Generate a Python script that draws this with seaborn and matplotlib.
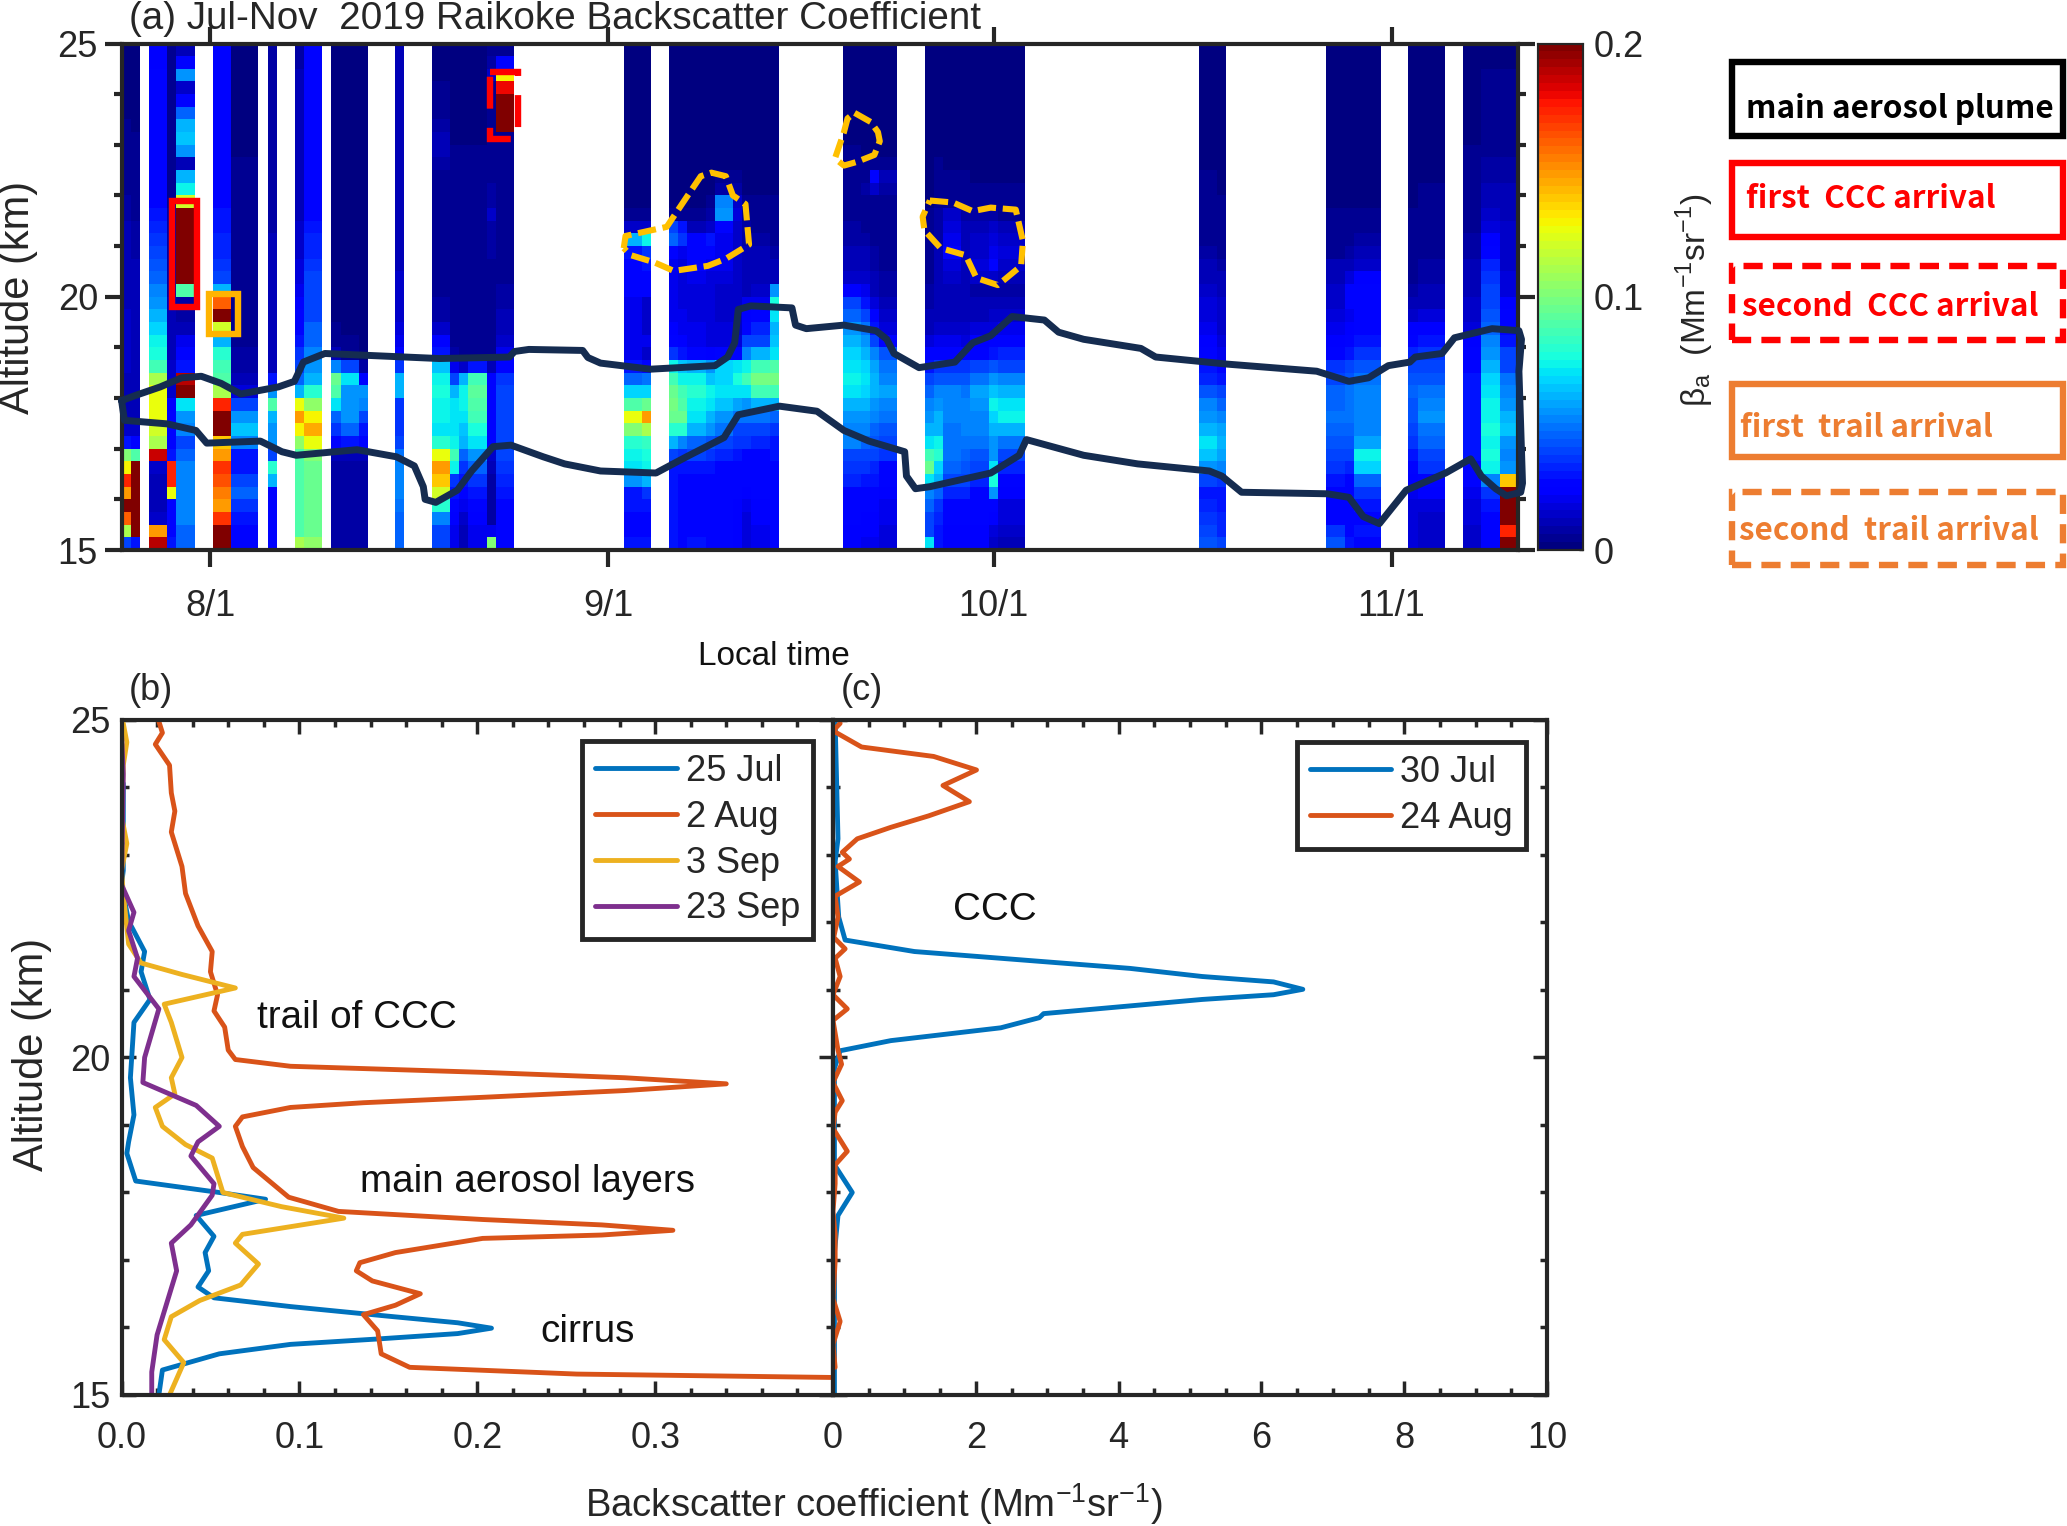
import numpy as np
import matplotlib
matplotlib.use('Agg')
import matplotlib.pyplot as plt
import seaborn as sns
from matplotlib.patches import Rectangle
from matplotlib.ticker import MultipleLocator

W, H = 2067, 1526
DARK = '#262626'

# lidar columns: first bin, number of bins (bin = 0.71 day)
col_start = [0, 1, 3, 5, 6, 10, 12, 16, 19, 20, 23, 24, 26, 30, 34, 36, 37, 38, 40, 41,
             55, 57, 60, 61, 62, 64, 65, 67, 68, 69, 71, 79, 81, 82, 83, 88, 89, 90, 92, 93, 95, 96,
             118, 120, 132, 134, 135, 141, 142, 147, 149, 151]
col_width = [1, 1, 2, 1, 2, 2, 3, 1, 1, 2, 1, 2, 1, 1, 2, 1, 1, 2, 1, 2,
             2, 1, 1, 1, 2, 1, 2, 1, 1, 2, 1, 2, 1, 1, 2, 1, 1, 2, 1, 2, 1, 3,
             2, 1, 2, 1, 3, 1, 3, 2, 2, 2]

# backscatter x1000, 0.25 km steps from 15 km up to 25 km (one group per km)
beta_profiles = [
    [40,110,160,200, 150,175,130,100, 30,15,10,10, 10,12,15,15, 15,15,15,12, 12,12,12,10, 10,10,8,8, 6,6,5,5, 4,4,3,3, 3,3,2,2],
    [30,200,200,200, 200,200,200,90, 25,15,12,12, 12,12,12,12, 12,12,10,10, 10,10,10,8, 8,8,6,6, 5,5,4,4, 4,3,3,3, 3,2,2,2],
    [190,150,15,12, 12,12,15,185, 110,120,125,125, 125,110,85,78, 72,68,62,55, 50,45,42,40, 35,32,30,28, 26,25,25,25, 25,25,25,25, 25,25,24,22],
    [30,25,25,25, 125,175,175,30, 25,25,25,22, 15,15,15,12, 10,10,10,10, 8,8,8,8, 8,8,8,6, 6,6,5,5, 5,5,5,5, 5,5,5,5],
    [45,45,50,50, 50,50,50,45, 40,50,55,70, 200,190,30,25, 20,10,8,8, 90,200,200,200, 200,200,200,120, 75,60,12,55, 65,60,45,25, 15,55,25,12],
    [200,200,170,150, 155,165,170,150, 140,200,200,175, 110,90,85,80, 60,120,200,160, 60,40,36,34, 32,30,30,28, 28,26,26,25, 25,25,25,25, 25,25,25,25],
    [25,28,30,35, 45,40,30,30, 50,65,55,40, 18,10,8,8, 6,6,6,6, 6,6,5,5, 5,5,5,4, 4,4,4,3, 3,3,3,3, 3,3,3,3],
    [25,25,25,25, 25,60,80,40, 55,55,60,90, 55,30,12,10, 10,10,10,10, 10,10,10,10, 10,8,8,8, 8,8,8,8, 8,8,8,8, 8,8,8,8],
    [110,90,90,90, 90,90,90,90, 105,130,150,125, 60,45,40,35, 30,28,25,22, 20,18,16,15, 14,14,12,12, 10,10,10,12, 12,12,10,10, 10,10,8,8],
    [105,95,95,95, 95,95,95,100, 125,145,130,105, 80,60,55,50, 45,45,40,40, 40,38,36,34, 32,30,28,26, 26,25,25,25, 25,25,25,25, 25,25,25,25],
    [8,8,8,8, 8,8,8,10, 25,35,45,70, 90,95,50,12, 4,4,3,3, 3,3,3,3, 3,3,3,3, 3,3,3,3, 3,3,3,3, 3,3,3,3],
    [8,8,8,8, 8,8,8,10, 30,45,55,55, 55,70,40,5, 4,3,3,3, 3,3,3,3, 3,3,3,3, 3,3,3,3, 3,3,3,3, 3,3,3,3],
    [8,8,8,8, 8,8,8,10, 25,30,40,50, 55,25,8,3, 3,3,3,3, 3,3,3,3, 3,3,3,3, 3,3,3,3, 3,3,3,3, 3,3,3,3],
    [45,45,45,48, 50,50,50,48, 40,35,35,35, 60,60,35,25, 20,18,15,15, 14,14,12,12, 12,12,12,12, 10,10,10,10, 10,10,10,10, 10,10,10,10],
    [40,40,50,80, 120,140,150,125, 80,70,75,75, 78,72,65,30, 25,15,8,8, 6,6,6,5, 5,5,5,5, 5,5,8,10, 10,8,6,5, 4,3,3,3],
    [20,20,22,25, 30,35,75,85, 75,70,70,70, 60,40,20,8, 5,5,5,4, 4,4,4,4, 4,4,4,4, 4,4,4,4, 3,3,3,3, 3,3,3,3],
    [12,12,15,20, 25,30,35,45, 60,65,70,72, 75,60,15,5, 5,4,4,4, 4,4,4,4, 4,4,4,4, 4,4,4,4, 3,3,3,3, 3,3,3,3],
    [20,20,22,25, 30,35,45,55, 70,78,85,90, 92,85,30,5, 4,4,4,4, 4,4,4,4, 4,4,4,4, 4,4,4,4, 3,3,3,3, 3,3,3,3],
    [100,20,8,8, 8,8,10,15, 25,25,25,25, 25,25,12,5, 5,5,5,5, 5,5,5,8, 8,8,15,8, 8,6,6,6, 6,5,5,5, 5,15,8,5],
    [25,25,25,28, 30,32,35,38, 40,40,40,40, 40,35,25,20, 15,12,10,8, 8,6,6,5, 5,5,5,5, 5,5,5,5, 5,200,200,200, 180,130,25,5],
    [30,28,28,30, 30,55,70,75, 80,100,125,90, 68,45,30,20, 20,20,20,20, 25,25,28,30, 60,15,5,3, 3,3,3,3, 3,3,3,3, 3,3,3,3],
    [30,28,28,30, 35,60,72,78, 82,110,150,95, 68,48,25,15, 20,15,15,15, 25,25,30,35, 75,15,5,3, 3,3,3,3, 3,3,3,3, 3,3,3,3],
    [30,30,30,30, 30,30,30,40, 60,80,95,98, 95,85,72,35, 25,22,20,20, 20,20,20,25, 45,40,5,3, 3,3,3,3, 3,3,3,3, 3,3,3,3],
    [28,28,28,28, 28,28,30,35, 50,80,95,90, 85,75,65,30, 22,20,20,18, 18,18,18,20, 35,30,5,3, 3,3,3,3, 3,3,3,3, 3,3,3,3],
    [30,28,28,28, 28,28,30,38, 45,60,70,75, 80,72,60,25, 20,20,18,18, 18,20,25,28, 25,12,5,3, 3,3,3,3, 3,3,3,3, 3,3,3,3],
    [28,28,28,28, 28,28,30,35, 42,55,62,70, 72,65,55,22, 18,18,18,18, 18,18,20,25, 30,15,8,5, 3,3,3,3, 3,3,3,3, 3,3,3,3],
    [25,25,25,25, 25,25,28,32, 40,48,55,65, 70,68,68,25, 18,18,15,15, 15,18,20,20, 20,25,55,50, 8,5,3,3, 3,3,3,3, 3,3,3,3],
    [22,22,22,22, 25,25,25,30, 35,40,48,58, 70,78,70,28, 18,15,15,15, 15,15,15,15, 15,15,18,15, 8,5,3,3, 3,3,3,3, 3,3,3,3],
    [18,18,18,20, 22,25,25,28, 35,40,48,55, 70,85,72,50, 38,28,22,20, 12,12,10,10, 8,8,6,5, 3,3,3,3, 3,3,3,3, 3,3,3,3],
    [20,20,22,22, 25,25,25,28, 32,40,48,60, 85,98,85,60, 40,32,25,20, 15,12,10,10, 8,6,5,5, 3,3,3,3, 3,3,3,3, 3,3,3,3],
    [25,25,25,25, 25,28,28,30, 30,35,45,60, 85,98,88,70, 65,60,70,78, 55,12,10,8, 6,5,5,4, 3,3,3,3, 3,3,3,3, 3,3,3,3],
    [22,22,25,25, 28,32,35,40, 50,52,55,60, 70,72,70,68, 62,55,45,38, 22,15,12,10, 8,8,6,5, 5,4,4,4, 3,3,3,3, 3,3,3,3],
    [20,22,22,25, 28,30,35,40, 45,50,55,60, 68,70,68,62, 55,48,40,30, 20,15,12,10, 8,6,5,5, 8,6,4,3, 3,3,3,3, 3,3,3,3],
    [20,22,22,25, 28,30,32,38, 42,45,50,55, 60,62,58,50, 40,30,25,18, 12,10,8,8, 6,6,5,5, 15,25,5,3, 3,3,3,3, 3,3,3,3],
    [18,18,20,20, 22,25,28,35, 38,42,48,52, 58,52,48,42, 28,18,15,12, 8,8,6,6, 6,5,5,5, 8,12,4,3, 3,3,3,3, 3,3,3,3],
    [70,40,40,45, 50,70,95,85, 70,60,55,50, 45,38,30,25, 18,12,10,8, 8,6,6,5, 5,5,5,3, 3,3,3,3, 3,3,3,3, 3,3,3,3],
    [30,30,32,35, 45,60,68,80, 72,62,60,55, 50,42,35,28, 20,15,12,10, 10,10,10,10, 8,8,8,5, 4,4,4,3, 3,3,3,3, 3,3,3,3],
    [22,22,25,28, 32,38,45,48, 48,48,50,50, 50,42,35,28, 20,15,12,10, 12,15,18,22, 20,18,15,5, 4,4,3,3, 3,3,3,3, 3,3,3,3],
    [22,22,25,28, 32,38,42,45, 48,50,50,50, 48,42,35,25, 18,14,12,10, 10,12,12,12, 12,10,8,5, 4,4,3,3, 3,3,3,3, 3,3,3,3],
    [22,22,25,25, 28,32,38,42, 48,52,52,55, 58,48,38,28, 22,16,12,10, 8,14,18,15, 15,12,8,5, 4,3,3,3, 3,3,3,3, 3,3,3,3],
    [15,18,22,25, 55,78,70,55, 55,60,68,72, 65,55,42,30, 25,18,15,12, 8,15,25,20, 18,15,8,5, 4,3,3,3, 3,3,3,3, 3,3,3,3],
    [12,15,18,18, 22,28,32,38, 48,62,72,70, 60,50,40,32, 25,20,15,10, 8,12,15,18, 15,10,6,5, 4,3,3,3, 3,3,3,3, 3,3,3,3],
    [42,38,36,32, 30,40,55,65, 70,62,55,50, 42,34,30,26, 22,20,18,16, 15,12,10,8, 6,5,5,5, 4,4,3,3, 3,3,3,3, 3,3,3,3],
    [38,34,32,30, 30,36,50,58, 62,58,52,46, 38,30,26,20, 16,15,15,14, 12,10,8,6, 5,5,4,4, 3,3,3,3, 3,3,3,3, 3,3,3,3],
    [42,35,28,25, 25,30,35,40, 42,45,48,45, 45,40,35,28, 22,20,18,15, 15,12,10,6, 5,5,4,3, 3,3,3,3, 3,3,3,3, 3,3,3,3],
    [30,28,25,25, 25,28,32,38, 42,45,48,48, 48,42,38,30, 25,22,20,25, 25,18,12,8, 6,5,4,3, 3,3,3,3, 3,3,3,3, 3,3,3,3],
    [28,30,28,30, 35,45,68,72, 58,52,52,50, 50,48,42,35, 30,25,25,25, 28,22,15,10, 8,6,5,3, 3,3,3,3, 3,3,3,3, 3,3,3,3],
    [18,18,18,18, 20,22,25,30, 35,38,42,42, 45,42,38,32, 28,22,15,12, 8,6,6,5, 5,4,4,3, 3,3,3,3, 3,3,3,3, 3,3,3,3],
    [15,15,15,18, 22,25,35,40, 45,48,55,52, 48,42,38,35, 30,22,18,12, 10,8,8,6, 6,5,5,4, 4,3,3,3, 3,3,3,3, 3,3,3,3],
    [15,15,18,18, 20,25,28,30, 30,30,30,30, 30,30,28,25, 22,18,15,15, 12,12,10,8, 8,6,6,5, 5,4,4,4, 3,3,3,3, 3,3,3,3],
    [25,25,28,30, 35,50,72,78, 75,78,75,75, 70,68,60,55, 50,45,42,40, 38,35,32,28, 22,18,15,12, 10,8,8,6, 6,5,5,4, 4,4,3,3],
    [200,175,200,200, 200,140,55,50, 55,65,60,55, 50,48,40,38, 30,28,25,22, 18,18,15,15, 15,15,12,12, 10,8,8,6, 6,5,5,4, 4,4,3,3],
]

# plume outline, days since 1 Aug and altitude in km
plume_day = [-6.91, -5.85, -3.90, -2.23, -0.70, 0.84, 2.37, 5.30, 6.55, 7.25, 8.92, 17.84, 23.28, 23.70, 24.81, 29.0, 29.41,
             30.39, 34.29, 39.31, 40.29, 40.84, 41.12, 42.10, 45.30, 45.58, 46.42, 49.35, 51.85, 52.69, 53.25, 55.20, 57.99,
             59.38, 60.78, 62.45, 64.96, 66.07, 68.02, 72.48, 73.63, 79.20, 86.17, 88.68, 90.21, 91.75, 93.42, 93.84, 95.93,
             96.90, 99.83, 101.92, 102.12, 101.92, 102.20, 102.06, 100.95, 100.11, 98.99, 98.16, 96.21, 93.14, 91.05, 89.80,
             88.68, 87.01, 80.32, 78.78, 77.81, 72.23, 68.02, 63.56, 63.0, 60.78, 56.04, 54.92, 54.22, 54.08, 51.30, 49.35,
             47.25, 44.33, 41.12, 40.01, 37.08, 34.71, 30.39, 27.60, 25.93, 23.42, 22.02, 20.35, 19.24, 17.56, 16.73, 16.59,
             15.89, 14.50, 11.43, 6.69, 5.58, 3.90, -0.28, -1.12, -3.35, -6.69, -6.91]
plume_alt = [17.95, 18.05, 18.22, 18.40, 18.43, 18.29, 18.08, 18.22, 18.33, 18.71, 18.88, 18.78, 18.81, 18.92, 18.96, 18.94, 18.80,
             18.69, 18.57, 18.64, 18.81, 19.09, 19.75, 19.82, 19.78, 19.44, 19.37, 19.44, 19.33, 19.16, 18.88, 18.60, 18.71,
             19.09, 19.23, 19.61, 19.54, 19.30, 19.16, 18.98, 18.81, 18.67, 18.53, 18.33, 18.40, 18.64, 18.71, 18.81, 18.88,
             19.19, 19.37, 19.33, 19.16, 18.53, 16.32, 16.14, 16.07, 16.21, 16.46, 16.80, 16.52, 16.18, 15.52, 15.66,
             16.04, 16.11, 16.14, 16.46, 16.56, 16.70, 16.87, 17.18, 16.87, 16.52, 16.25, 16.21, 16.46, 16.94, 17.15, 17.36,
             17.74, 17.84, 17.67, 17.22, 16.84, 16.52, 16.56, 16.70, 16.84, 17.07, 17.04, 16.56, 16.18, 15.94, 16.0, 16.25,
             16.66, 16.84, 16.98, 16.87, 16.94, 17.15, 17.11, 17.36, 17.49, 17.56, 17.95]

# trail contours
blob1_day = [32.20, 32.34, 35.55, 37.08, 38.20, 39.03, 40.15, 40.70, 41.68, 41.96, 40.15, 38.75, 36.10, 34.57, 32.76, 32.20]
blob1_alt = [20.96, 21.20, 21.38, 21.96, 22.38, 22.45, 22.38, 22.0, 21.83, 21.03, 20.75, 20.61, 20.51, 20.68, 20.82, 20.96]
blob2_day = [50.18, 51.44, 52.0, 52.14, 51.72, 50.32, 49.35, 48.65, 49.35, 49.63, 50.18]
blob2_alt = [23.63, 23.45, 23.25, 23.07, 22.80, 22.66, 22.59, 22.73, 23.25, 23.52, 23.63]
blob3_day = [56.04, 57.85, 59.38, 60.78, 62.73, 63.29, 63.15, 61.34, 59.67, 58.83, 56.88, 55.62, 55.48, 56.04]
blob3_alt = [21.90, 21.86, 21.69, 21.76, 21.72, 21.10, 20.61, 20.23, 20.37, 20.82, 20.96, 21.31, 21.58, 21.90]

# panel b
jul25_val = [.001, .001, .0, .004, .013, .011, .016, .007, .006, .005, .007, .004, .003, .008, .055, .081, .042, .052, .047, .049,
             .043, .052, .095, .149, .189, .208, .189, .144, .095, .055, .023, .021]
jul25_alt = [24.06, 22.77, 22.56, 22.02, 21.57, 21.27, 20.86, 20.52, 20.11, 19.70, 19.15, 18.75, 18.58, 18.17, 18.0, 17.90, 17.66,
             17.35, 17.11, 16.84, 16.60, 16.44, 16.31, 16.17, 16.07, 15.99, 15.91, 15.83, 15.75, 15.61, 15.37, 15.0]
aug2_val = [.021, .023, .019, .027, .028, .030, .028, .034, .036, .043, .051, .050, .054, .052, .058, .060, .064, .095, .203, .283, .340,
            .283, .203, .136, .095, .068, .064, .068, .074, .094, .122, .203, .270, .310, .270, .203, .154, .134, .132, .141, .168, .154, .136, .144, .146,
            .162, .256, .399]
aug2_alt = [24.98, 24.81, 24.64, 24.33, 23.92, 23.65, 23.34, 22.83, 22.43, 21.95, 21.57, 21.27, 20.93, 20.69, 20.45, 20.11, 19.97,
            19.87, 19.78, 19.70, 19.61, 19.51, 19.41, 19.33, 19.26, 19.12, 18.98, 18.68, 18.37, 17.93, 17.72, 17.60, 17.52, 17.44, 17.37, 17.32, 17.11, 16.96, 16.84,
            16.69, 16.50, 16.33, 16.19, 15.95, 15.61, 15.41, 15.31, 15.26]
sep3_val = [.001, .003, .001, .0, .003, .0, .001, .004, .011, .034, .064, .024, .028, .034, .028, .030, .019, .023, .036, .051, .057,
            .090, .125, .068, .064, .077, .067, .044, .028, .024, .035, .027]
sep3_alt = [24.95, 24.67, 24.33, 23.58, 23.17, 22.77, 22.43, 21.68, 21.40, 21.23, 21.03, 20.79, 20.52, 20.0, 19.70, 19.46, 19.26,
            18.98, 18.71, 18.51, 18.0, 17.79, 17.62, 17.38, 17.25, 16.94, 16.63, 16.40, 16.16, 15.82, 15.48, 15.0]
sep23_val = [.0, .001, .0, .007, .004, .009, .007, .021, .013, .012, .042, .055, .043, .039, .052, .051, .039, .028, .031, .020, .017, .017]
sep23_alt = [24.81, 24.2, 22.56, 22.15, 21.88, 21.47, 21.2, 20.72, 20.0, 19.63, 19.29, 18.98, 18.75, 18.54, 18.13, 17.96, 17.52,
             17.25, 16.84, 15.89, 15.34, 15.0]

# panel c
jul30_val = [.03, .07, .03, .08, .17, 1.14, 4.16, 5.17, 6.17, 6.58, 6.17, 5.17, 2.95, 2.89, 2.35, .81, .10, .02, .02, .27, .07, .02, .02]
jul30_alt = [24.98, 23.24, 22.9, 22.08, 21.74, 21.57, 21.32, 21.2, 21.12, 21.01, 20.93, 20.86, 20.65, 20.59, 20.44, 20.25, 20.10, 19.84, 18.41,
             18.0, 17.66, 17.11, 15.0]
aug24_val = [.10, .0, .40, 1.41, 2.01, 1.54, 1.91, 1.34, .81, .34, .13, .23, .07, .37, .03, .07, .01, .17, .03, .10, .0, .20, .0,
             .07, .12, .0, .13, .03, .0, .20, .03, .03, .0, .03, .03, .0, .10, .0, .03]
aug24_alt = [24.95, 24.84, 24.6, 24.46, 24.26, 24.03, 23.79, 23.58, 23.41, 23.24, 23.04, 22.94, 22.83, 22.6, 22.39, 22.08, 21.78,
             21.61, 21.47, 21.2, 20.93, 20.72, 20.55, 20.11, 19.9, 19.63, 19.36, 19.19, 18.95, 18.61, 18.41, 18.13, 17.72, 17.38,
             16.98, 16.43, 16.09, 15.75, 15.41]

month_days = [0, 31, 61, 92]
month_labels = ['8/1', '9/1', '10/1', '11/1']

sns.set_theme(style='white')
plt.rcParams['font.family'] = ['Liberation Sans', 'DejaVu Sans']
plt.rcParams['text.color'] = DARK
plt.rcParams['axes.labelcolor'] = DARK
plt.rcParams['xtick.color'] = DARK
plt.rcParams['ytick.color'] = DARK


def box(l, t, r, b):
    return [l / W, 1 - b / H, (r - l) / W, (b - t) / H]


def fx(x):
    return x / W


def fy(y):
    return 1 - y / H


fig = plt.figure(figsize=(W / 100, H / 100), dpi=100, facecolor='white')

# ---- panel a
ax_a = fig.add_axes(box(121.5, 43.5, 1518, 550))
cax = fig.add_axes(box(1538, 43.5, 1583, 550))

n_rows = 40
n_cols = 153
grid = np.full((n_rows, n_cols), np.nan)
for start, width, prof in zip(col_start, col_width, beta_profiles):
    grid[:, start:start + width] = np.array(prof)[::-1, None] / 1000.0

sns.heatmap(grid, ax=ax_a, cbar_ax=cax, cmap=plt.get_cmap('jet', 64), vmin=0, vmax=0.2,
            xticklabels=False, yticklabels=False, cbar_kws={'ticks': [0, 0.1, 0.2]})


def col_x(day):
    return 9.73 + np.asarray(day) * 1.4067


def row_y(alt):
    return (25 - np.asarray(alt)) * 4


ax_a.plot(col_x(plume_day), row_y(plume_alt), color='#152c50', lw=5, clip_on=False, solid_joinstyle='round', zorder=5)
for bx, by in [(blob1_day, blob1_alt), (blob2_day, blob2_alt), (blob3_day, blob3_alt)]:
    ax_a.plot(col_x(bx), row_y(by), color='#ffc000', lw=4.4, ls=(0, (3, 1.1)), zorder=5)

ax_a.add_patch(Rectangle((col_x(-3.0), row_y(21.9)), col_x(-1.05) - col_x(-3.0), row_y(19.8) - row_y(21.9),
                         fill=False, ec='#ff0000', lw=4.6, joinstyle='miter', zorder=6))
ax_a.add_patch(Rectangle((col_x(-0.08), row_y(20.05)), col_x(2.17) - col_x(-0.08), row_y(19.26) - row_y(20.05),
                         fill=False, ec='#ffb400', lw=4.6, joinstyle='miter', zorder=6))
ax_a.add_patch(Rectangle((col_x(21.75), row_y(24.44)), col_x(23.98) - col_x(21.75), row_y(23.12) - row_y(24.44),
                         fill=False, ec='#ff0000', lw=4.6, ls=(0, (5, 3)), zorder=6))

ax_a.set_xticks(col_x(month_days))
ax_a.set_xticklabels(month_labels)
ax_a.set_yticks(row_y([25, 20, 15]))
ax_a.set_yticklabels(['25', '20', '15'], rotation=0)
ax_a.set_yticks(row_y(np.arange(16, 25)), minor=True)
ax_a.tick_params(which='major', direction='out', length=12, width=3, labelsize=26, top=True, right=True, bottom=True, left=True, pad=16)
ax_a.tick_params(which='minor', direction='out', length=6, width=3, left=True, right=True)
ax_a.tick_params(axis='y', which='major', pad=5)
for s in ax_a.spines.values():
    s.set_visible(True)
    s.set_linewidth(3)
    s.set_color(DARK)

cax.tick_params(labelsize=26, length=3, width=1, direction='in', right=True, pad=8)
cax.set_yticklabels(['0', '0.1', '0.2'])
for s in cax.spines.values():
    s.set_visible(True)
    s.set_linewidth(1.5)
    s.set_color(DARK)

fig.text(fx(129), fy(19), '(a) Jul-Nov  2019 Raikoke Backscatter Coefficient', fontsize=27.8, va='center', ha='left')
fig.text(fx(18), fy(297), 'Altitude (km)', fontsize=30, rotation=90, va='center', ha='center')
fig.text(fx(774), fy(656), 'Local time', fontsize=24, va='center', ha='center', color='#111111')
fig.text(fx(1695), fy(300), r'$\mathregular{\beta_a}$  (Mm$^{\mathregular{-1}}$sr$^{\mathregular{-1}}$)', fontsize=24,
         rotation=90, va='center', ha='center')

# ---- panels b, c
ax_b = fig.add_axes(box(121.5, 720, 833, 1395))
ax_c = fig.add_axes(box(833, 720, 1547, 1395))
line_kw = dict(sort=False, estimator=None, lw=3.5)

sns.lineplot(x=jul25_val, y=jul25_alt, ax=ax_b, color='#0072BD', label='25 Jul', **line_kw)
sns.lineplot(x=aug2_val, y=aug2_alt, ax=ax_b, color='#D95319', label='2 Aug', **line_kw)
sns.lineplot(x=sep3_val, y=sep3_alt, ax=ax_b, color='#EDB120', label='3 Sep', **line_kw)
sns.lineplot(x=sep23_val, y=sep23_alt, ax=ax_b, color='#7E2F8E', label='23 Sep', **line_kw)
sns.lineplot(x=jul30_val, y=jul30_alt, ax=ax_c, color='#0072BD', label='30 Jul', **line_kw)
sns.lineplot(x=aug24_val, y=aug24_alt, ax=ax_c, color='#D95319', label='24 Aug', **line_kw)

ax_b.set_xlim(0, 0.4)
ax_b.set_xticks([0, 0.1, 0.2, 0.3])
ax_b.set_xticklabels(['0.0', '0.1', '0.2', '0.3'])
ax_b.xaxis.set_minor_locator(MultipleLocator(0.02))
ax_c.set_xlim(0, 10)
ax_c.set_xticks([0, 2, 4, 6, 8, 10])
ax_c.xaxis.set_minor_locator(MultipleLocator(0.5))
for ax in (ax_b, ax_c):
    ax.set_ylim(15, 25)
    ax.set_yticks([15, 20, 25])
    ax.yaxis.set_minor_locator(MultipleLocator(1))
    ax.tick_params(which='major', direction='in', length=10, width=2.5, labelsize=26, top=True, right=True, bottom=True, left=True, pad=19)
    ax.tick_params(which='minor', direction='in', length=5, width=2.5, top=True, right=True, bottom=True, left=True)
    ax.tick_params(axis='y', which='major', pad=8)
    for s in ax.spines.values():
        s.set_visible(True)
        s.set_linewidth(3)
        s.set_color(DARK)
ax_c.set_yticklabels([])

for ax, anchor in ((ax_b, (813, 741)), (ax_c, (1526, 742))):
    leg = ax.legend(loc='upper right', bbox_to_anchor=(fx(anchor[0]), fy(anchor[1])), bbox_transform=fig.transFigure,
                    fontsize=26, frameon=True, fancybox=False, framealpha=1, edgecolor=DARK, borderaxespad=0,
                    handlelength=2.25, handletextpad=0.25, labelspacing=0.3, borderpad=0.36)
    leg.get_frame().set_linewidth(3.5)

fig.text(fx(129), fy(690), '(b)', fontsize=26, va='center', ha='left')
fig.text(fx(841), fy(690), '(c)', fontsize=26, va='center', ha='left')
fig.text(fx(32), fy(1054), 'Altitude (km)', fontsize=30, rotation=90, va='center', ha='center')
fig.text(fx(874), fy(1504), 'Backscatter coefficient (Mm$^{\\mathregular{-1}}$sr$^{\\mathregular{-1}}$)', fontsize=27.5, va='center', ha='center')
fig.text(fx(257), fy(1018), 'trail of CCC', fontsize=27.8, va='center', ha='left', color='#111111')
fig.text(fx(360), fy(1182), 'main aerosol layers', fontsize=27.8, va='center', ha='left', color='#111111')
fig.text(fx(540), fy(1332), 'cirrus', fontsize=27.8, va='center', ha='left', color='#111111')
fig.text(fx(953), fy(910), 'CCC', fontsize=27.8, va='center', ha='left', color='#111111')

# ---- key on the right
key_top = [62, 163, 266, 384, 492]
key_bottom = [136, 237, 340, 457, 565]
key_text = ['main aerosol plume', 'first  CCC arrival', 'second  CCC arrival', 'first  trail arrival', 'second  trail arrival']
key_color = ['#000000', '#ff0000', '#ff0000', '#ed7d31', '#ed7d31']
key_dash = [False, False, True, False, True]
key_text_x = [1746, 1746, 1742, 1740, 1739]
key_text_y = [109, 199, 307, 428, 531]
for top, bottom, label, color, dashed, tx, ty in zip(key_top, key_bottom, key_text, key_color, key_dash, key_text_x, key_text_y):
    fig.add_artist(Rectangle((fx(1732), fy(bottom)), fx(2063 - 1732), fy(top) - fy(bottom), transform=fig.transFigure,
                             fill=False, ec=color, lw=4.6, ls=(0, (3, 1.6)) if dashed else '-', joinstyle='miter'))
    fig.text(fx(tx), fy(ty), label, fontsize=22.7, color=color, fontweight='bold',
             family=['Noto Sans CJK SC', 'DejaVu Sans'], va='center', ha='left')

fig.savefig('out.png', dpi=100, facecolor='white')
